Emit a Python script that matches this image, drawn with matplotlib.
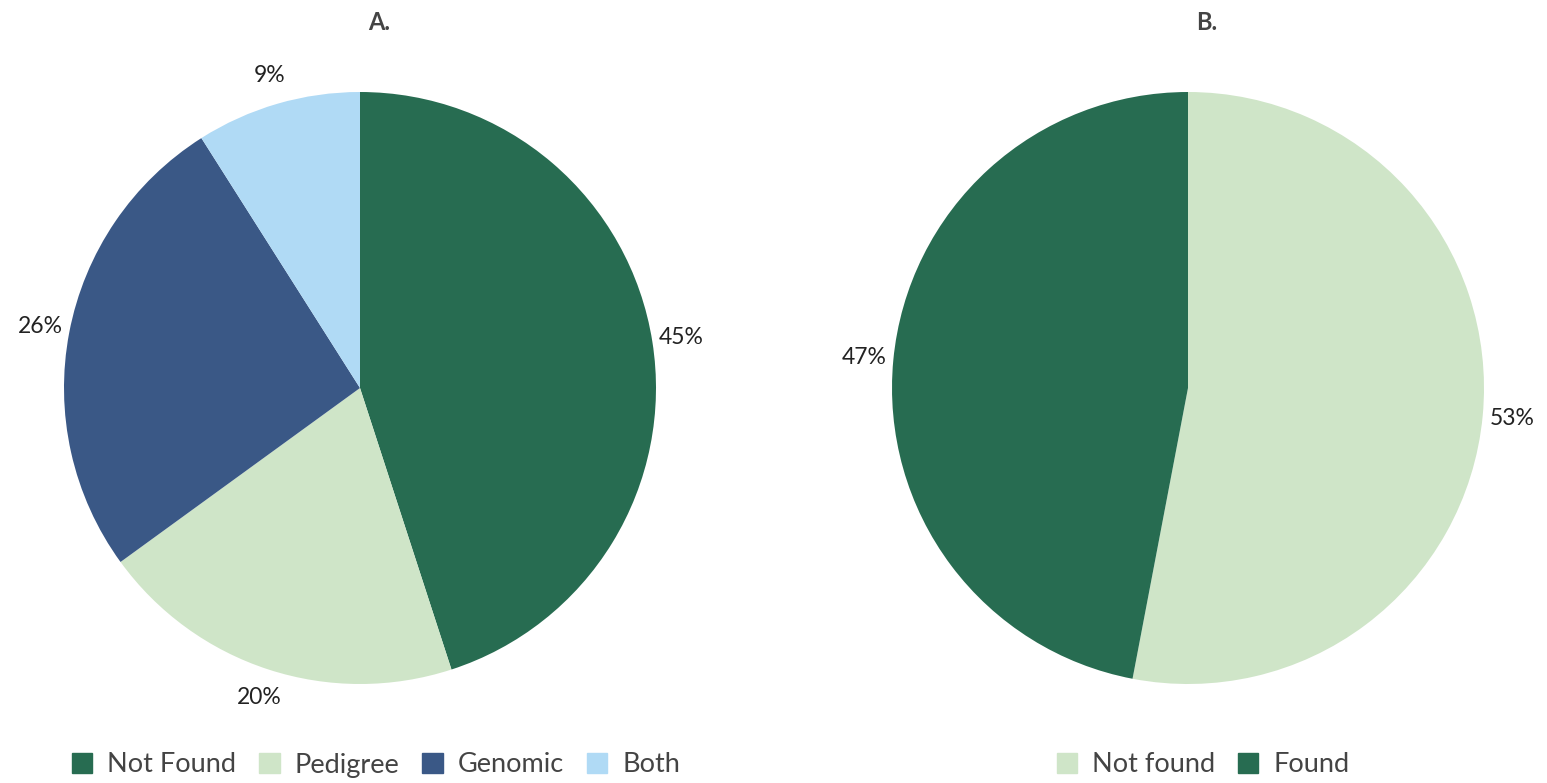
import matplotlib.pyplot as plt
from matplotlib.patches import Patch

plt.rcParams['font.family'] = ['Lato', 'DejaVu Sans']

# panel A
labels_a = ['Not Found', 'Pedigree', 'Genomic', 'Both']
values_a = [45, 20, 26, 9]
colors_a = ['#276c51', '#cfe5c8', '#3a5886', '#b0daf5']

# panel B
labels_b = ['Not found', 'Found']
values_b = [53, 47]
colors_b = ['#cfe5c8', '#276c51']

W, H = 1547, 783
fig = plt.figure(figsize=(W / 100, H / 100), dpi=100)


def pie_axes(cx, cy, r):
    # axes in pixel coords, centre (cx, cy) from top-left, radius r
    ax = fig.add_axes([(cx - r) / W, (H - cy - r) / H, 2 * r / W, 2 * r / H])
    ax.axis('off')
    return ax


def draw_pie(ax, values, colors):
    wedges, texts, autotexts = ax.pie(values, colors=colors, startangle=90, counterclock=False,
                                      radius=1, autopct='%.0f%%', pctdistance=1.1,
                                      textprops={'fontsize': 16.5, 'color': '#222222'})
    for t in autotexts:
        t.set_clip_on(False)
    ax.set_xlim(-1, 1)
    ax.set_ylim(-1, 1)
    ax.set_aspect('equal')
    return wedges


draw_pie(pie_axes(360, 388, 296), values_a, colors_a)
draw_pie(pie_axes(1188, 388, 296), values_b, colors_b)

fig.text(379 / W, 1 - 23 / H, 'A.', ha='center', va='center', fontsize=17,
         fontweight='bold', color='#444444')
fig.text(1207 / W, 1 - 23 / H, 'B.', ha='center', va='center', fontsize=17,
         fontweight='bold', color='#444444')

leg_kw = dict(loc='center', ncol=4, frameon=False, fontsize=19.5, labelcolor='#444444',
              handlelength=0.75, handleheight=0.75, handletextpad=0.55, columnspacing=0.85)
fig.legend([Patch(color=c) for c in colors_a], labels_a,
           bbox_to_anchor=(376 / W, 1 - 765 / H), **leg_kw)
fig.legend([Patch(color=c) for c in colors_b], labels_b,
           bbox_to_anchor=(1203 / W, 1 - 765 / H), **leg_kw)

fig.savefig('out.png', dpi=100)
